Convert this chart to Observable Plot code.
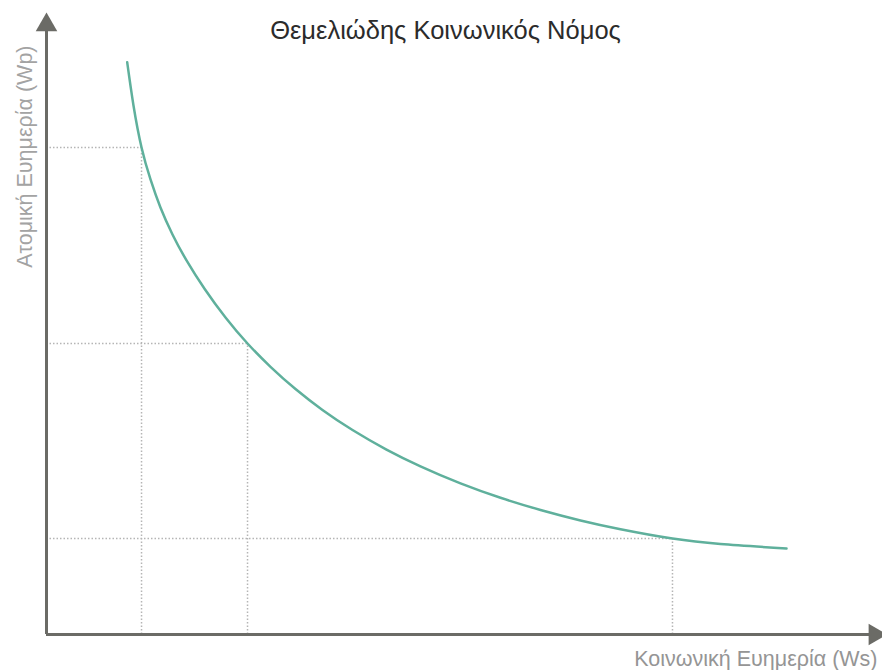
<!DOCTYPE html>
<html>
<head>
<meta charset="utf-8">
<script src="https://cdn.jsdelivr.net/npm/d3@7"></script>
<script src="https://cdn.jsdelivr.net/npm/@observablehq/plot@0.6"></script>
<style>
  html, body { margin: 0; padding: 0; background: #fff; }
  #chart svg { display: block; }
</style>
</head>
<body>
<div id="chart"></div>
<script>
// Curve (arbitrary units, 0–10 on both axes)
const curveX = [0.972, 1.048, 1.145, 1.253, 1.373, 1.518, 1.687, 1.904, 2.157, 2.422, 2.699, 3.000, 3.325, 3.687, 4.096, 4.506, 4.988, 5.470, 5.952, 6.434, 6.916, 7.542, 8.120, 8.916];
const curveY = [9.201, 8.505, 7.830, 7.316, 6.866, 6.432, 6.015, 5.559, 5.096, 4.678, 4.304, 3.946, 3.610, 3.287, 2.973, 2.703, 2.429, 2.198, 2.002, 1.834, 1.693, 1.543, 1.455, 1.383];

// Highlighted points with dotted guides
const guideX = [1.145, 2.422, 7.542];
const guideY = [7.830, 4.678, 1.543];

const title = "Θεμελιώδης Κοινωνικός Νόμος";
const xLabel = "Κοινωνική Ευημερία (Ws)";
const yLabel = "Ατομική Ευημερία (Wp)";

const curve = curveX.map((x, i) => ({x, y: curveY[i]}));
const guides = guideX.map((x, i) => ({x, y: guideY[i]}));

const axisTopY = 9.8;
const axisRightX = 9.98;

const chart = Plot.plot({
  width: 882,
  height: 670,
  marginLeft: 46,
  marginRight: 6,
  marginTop: 12,
  marginBottom: 36,
  x: {domain: [0, 10], axis: null},
  y: {domain: [0, 10], axis: null},
  style: {fontFamily: "'Liberation Sans', Arial, sans-serif", background: "#fff"},
  marks: [
    // dotted guides
    Plot.ruleY(guides, {y: "y", x1: 0, x2: "x", stroke: "#b5b5b5", strokeWidth: 1.5, strokeDasharray: "1.5,2"}),
    Plot.ruleX(guides, {x: "x", y1: 0, y2: "y", stroke: "#b5b5b5", strokeWidth: 1.5, strokeDasharray: "1.5,2"}),
    // axes with arrows
    Plot.ruleX([0], {y1: 0, y2: axisTopY, stroke: "#6b6b66", strokeWidth: 3}),
    Plot.ruleY([0], {x1: 0, x2: axisRightX, stroke: "#6b6b66", strokeWidth: 3}),
    Plot.dot([{x: 0, y: axisTopY}], {x: "x", y: "y", symbol: "triangle", r: 8, fill: "#6b6b66", stroke: null}),
    Plot.dot([{x: axisRightX, y: 0}], {x: "x", y: "y", symbol: "triangle", r: 8, rotate: 90, fill: "#6b6b66", stroke: null}),
    // curve
    Plot.line(curve, {x: "x", y: "y", curve: "natural", stroke: "#5fb09c", strokeWidth: 2.5}),
    // texts
    Plot.text([title], {frameAnchor: "top", lineAnchor: "middle", dx: -16, dy: 18, fontSize: 25.5, fill: "#2b2b2b"}),
    Plot.text([yLabel], {frameAnchor: "top-left", dx: -30, dy: 33, rotate: -90, textAnchor: "end", fontSize: 21.5, fill: "#a3a3a3"}),
    Plot.text([xLabel], {frameAnchor: "bottom-right", lineAnchor: "middle", dx: 1, dy: 25, textAnchor: "end", fontSize: 21.5, fill: "#959595"})
  ]
});

document.getElementById("chart").appendChild(chart);
</script>
</body>
</html>
